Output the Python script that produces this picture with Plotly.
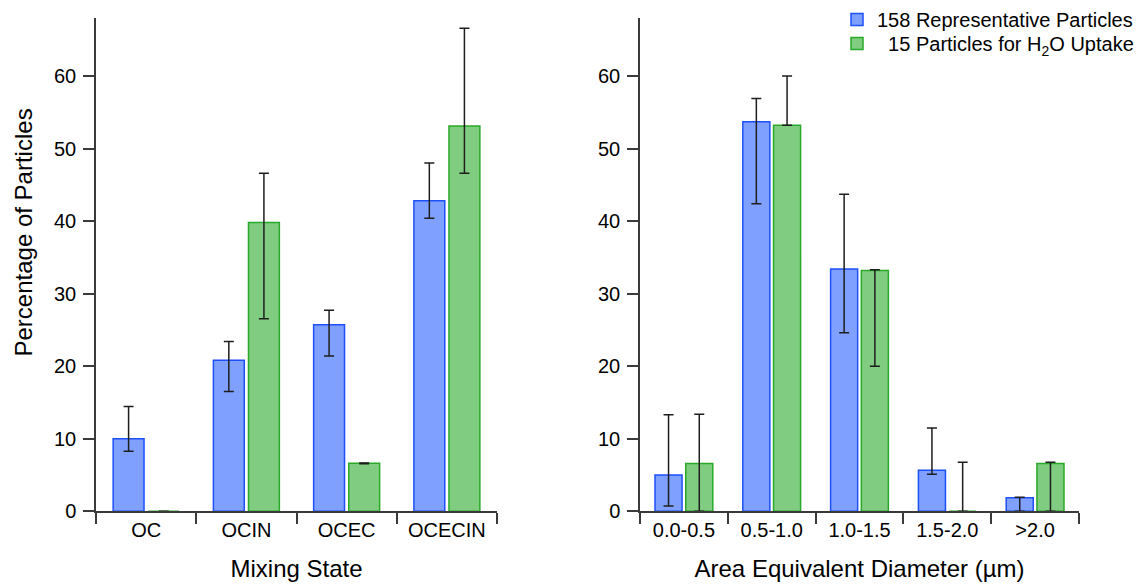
import plotly.graph_objects as go

# ---- data ----
mixing_states = ["OC", "OCIN", "OCEC", "OCECIN"]
mix_rep = [10.0, 20.8, 25.7, 42.8]
mix_rep_plus = [4.45, 2.6, 2.0, 5.2]
mix_rep_minus = [1.75, 4.3, 4.3, 2.4]
mix_h2o = [0.0, 39.8, 6.6, 53.1]
mix_h2o_plus = [0.0, 6.8, 0.05, 13.5]
mix_h2o_minus = [0.0, 13.25, 0.05, 6.5]

size_bins = ["0.0-0.5", "0.5-1.0", "1.0-1.5", "1.5-2.0", ">2.0"]
size_rep = [5.0, 53.7, 33.4, 5.66, 1.85]
size_rep_plus = [8.3, 3.2, 10.3, 5.8, 0.08]
size_rep_minus = [4.3, 11.3, 8.8, 0.56, 1.85]
size_h2o = [6.58, 53.2, 33.2, 0.0, 6.58]
size_h2o_plus = [6.8, 6.8, 0.1, 6.76, 0.18]
size_h2o_minus = [6.58, 0.0, 13.2, 0.0, 6.58]

names = ["158 Representative Particles", "\u00a0\u00a015 Particles for H<sub>2</sub>O Uptake"]

# ---- styles ----
FONT = "Liberation Sans, Arial, sans-serif"
BLUE_FILL = "rgb(128,160,255)"
BLUE_LINE = "rgb(30,80,250)"
GREEN_FILL = "rgb(128,204,128)"
GREEN_LINE = "rgb(40,170,40)"
ERR = "#1e1e1e"
AX = "#3a3a3a"

# page body adds an 8px offset; figure is sized so it ends at the window edge
OFF = 8
W, H = 1146 - OFF, 585 - OFF


def px(x):
    return (x - OFF) / W


def py(y):
    return (H - (y - OFF)) / H


def err(plus, minus):
    return dict(type="data", symmetric=False, array=plus, arrayminus=minus,
                color=ERR, thickness=1.5, width=5)


fig = go.Figure()
fig.add_trace(go.Bar(x=mixing_states, y=mix_rep, name=names[0], xaxis="x", yaxis="y",
                     marker=dict(color=BLUE_FILL, line=dict(color=BLUE_LINE, width=1.5)),
                     error_y=err(mix_rep_plus, mix_rep_minus), legend="legend", showlegend=True))
fig.add_trace(go.Bar(x=mixing_states, y=mix_h2o, name=names[1], xaxis="x", yaxis="y",
                     marker=dict(color=GREEN_FILL, line=dict(color=GREEN_LINE, width=1.5)),
                     error_y=err(mix_h2o_plus, mix_h2o_minus), legend="legend2", showlegend=True))
fig.add_trace(go.Bar(x=size_bins, y=size_rep, name=names[0], xaxis="x2", yaxis="y2",
                     marker=dict(color=BLUE_FILL, line=dict(color=BLUE_LINE, width=1.5)),
                     error_y=err(size_rep_plus, size_rep_minus), showlegend=False))
fig.add_trace(go.Bar(x=size_bins, y=size_h2o, name=names[1], xaxis="x2", yaxis="y2",
                     marker=dict(color=GREEN_FILL, line=dict(color=GREEN_LINE, width=1.5)),
                     error_y=err(size_h2o_plus, size_h2o_minus), showlegend=False))

y_dom = [py(511.2), py(18)]

common_x = dict(type="category", tickson="boundaries", ticks="outside", ticklen=11,
                tickcolor=AX, tickwidth=1.5, showline=True, linecolor=AX, linewidth=1.5,
                showgrid=False, zeroline=False, automargin=False,
                tickfont=dict(family=FONT, size=20, color="black"))
common_y = dict(range=[0, 68.0], dtick=10, tick0=0, ticks="outside", ticklen=11,
                tickcolor=AX, tickwidth=1.5, showline=True, linecolor=AX, linewidth=1.5,
                showgrid=False, zeroline=False, automargin=False, domain=y_dom,
                tickfont=dict(family=FONT, size=20, color="black"), ticklabelstandoff=3)

leg = dict(xanchor="left", yanchor="top", font=dict(family=FONT, size=20, color="black"),
           bgcolor="rgba(0,0,0,0)", borderwidth=0)

fig.update_layout(
    width=W, height=H,
    margin=dict(l=0, r=0, t=0, b=0, autoexpand=False),
    paper_bgcolor="white", plot_bgcolor="white",
    template="none",
    barmode="group", bargap=0.3, bargroupgap=0.12,
    font=dict(family=FONT, size=20, color="black"),
    xaxis=dict(common_x, domain=[px(96), px(497)], range=[-0.5, 3.5],
               title=dict(text="Mixing State", font=dict(family=FONT, size=24), standoff=20)),
    yaxis=dict(common_y, anchor="x"),
    xaxis2=dict(common_x, domain=[px(640), px(1079)], range=[-0.5, 4.5], anchor="y2",
                title=dict(text="Area Equivalent Diameter (µm)", font=dict(family=FONT, size=24), standoff=20)),
    yaxis2=dict(common_y, anchor="x2"),
    legend=dict(leg, x=px(837), y=py(0)),
    legend2=dict(leg, x=px(837), y=py(24)),
    annotations=[dict(text="Percentage of Particles", textangle=-90,
                      x=px(23), y=py(232.5), xref="paper", yref="paper",
                      xanchor="center", yanchor="middle", showarrow=False,
                      font=dict(family=FONT, size=24, color="black"))],
)

fig.write_html("out.html")
